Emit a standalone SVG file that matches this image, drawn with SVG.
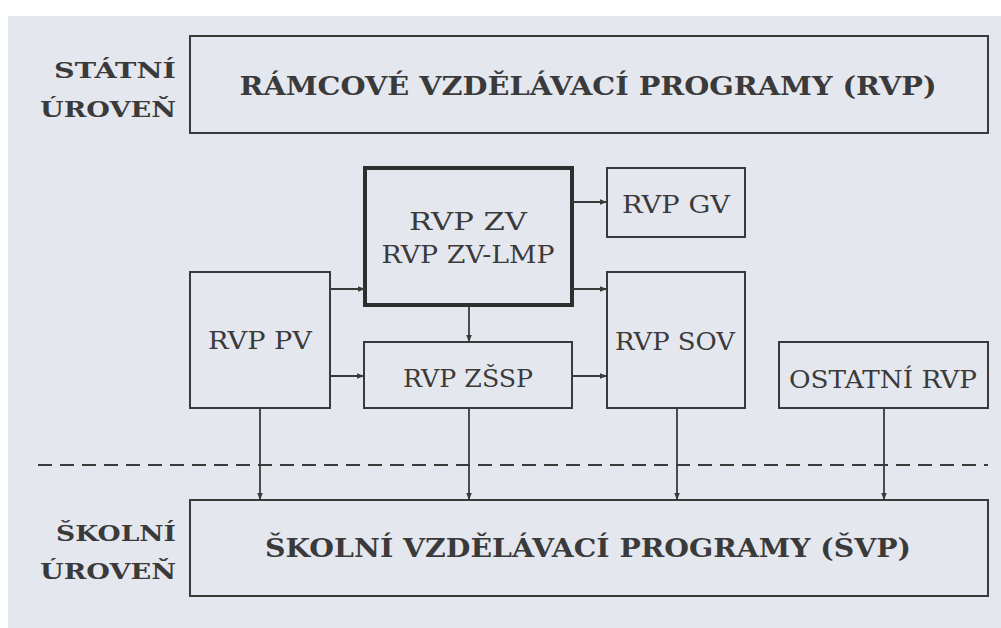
<svg xmlns="http://www.w3.org/2000/svg" width="1001" height="628" viewBox="0 0 1001 628">
<defs>
<style>
.box{fill:none;stroke:#3a3a3a;stroke-width:2}
.thick{fill:none;stroke:#2e2e2e;stroke-width:4}
.c{fill:none;stroke:#3a3a3a;stroke-width:1.8}
.dash{fill:none;stroke:#3a3a3a;stroke-width:2;stroke-dasharray:14 8}
.t{font-family:"DejaVu Serif","Liberation Serif",serif;fill:#3a3a3a;text-anchor:middle}
.node{font-size:24px}
.title{font-size:26px;font-weight:bold}
.lvl{font-size:22px;font-weight:bold;text-anchor:end}
</style>
<marker id="ah" viewBox="0 0 10 10" refX="10" refY="5" markerWidth="8" markerHeight="7" markerUnits="userSpaceOnUse" orient="auto">
<path d="M0,1 L10,5 L0,9 Z" fill="#3a3a3a"/>
</marker>
</defs>
<rect x="0" y="0" width="1001" height="628" fill="#ffffff"/>
<rect x="8" y="16" width="993" height="612" fill="#e5e7ef"/>

<g id="levels">
<text class="t lvl" x="176" y="78" textLength="122" lengthAdjust="spacingAndGlyphs">STÁTNÍ</text>
<text class="t lvl" x="176" y="117" textLength="136" lengthAdjust="spacingAndGlyphs">ÚROVEŇ</text>
<text class="t lvl" x="176" y="541" textLength="120" lengthAdjust="spacingAndGlyphs">ŠKOLNÍ</text>
<text class="t lvl" x="176" y="579" textLength="136" lengthAdjust="spacingAndGlyphs">ÚROVEŇ</text>
</g>

<g id="rvp">
<rect class="box" x="190" y="36" width="798" height="97"/>
<text class="t title" x="588" y="95" textLength="697" lengthAdjust="spacingAndGlyphs">RÁMCOVÉ VZDĚLÁVACÍ PROGRAMY (RVP)</text>
</g>

<g id="zv">
<rect class="thick" x="365" y="168" width="207" height="137"/>
<text class="t node" x="468" y="230" textLength="118" lengthAdjust="spacingAndGlyphs">RVP ZV</text>
<text class="t node" x="468" y="263" textLength="173" lengthAdjust="spacingAndGlyphs">RVP ZV-LMP</text>
</g>

<g id="gv">
<rect class="box" x="607" y="168" width="138" height="69"/>
<text class="t node" x="676" y="213" textLength="108" lengthAdjust="spacingAndGlyphs">RVP GV</text>
</g>

<g id="pv">
<rect class="box" x="190" y="272" width="140" height="136"/>
<text class="t node" x="260" y="349" textLength="104" lengthAdjust="spacingAndGlyphs">RVP PV</text>
</g>

<g id="sov">
<rect class="box" x="607" y="272" width="138" height="136"/>
<text class="t node" x="675" y="350" textLength="120" lengthAdjust="spacingAndGlyphs">RVP SOV</text>
</g>

<g id="zssp">
<rect class="box" x="364" y="342" width="208" height="66"/>
<text class="t node" x="468" y="387" textLength="130" lengthAdjust="spacingAndGlyphs">RVP ZŠSP</text>
</g>

<g id="ostatni">
<rect class="box" x="779" y="342" width="209" height="66"/>
<text class="t node" x="883" y="388" textLength="188" lengthAdjust="spacingAndGlyphs">OSTATNÍ RVP</text>
</g>

<g id="svp">
<rect class="box" x="190" y="500" width="798" height="96"/>
<text class="t title" x="588" y="557" textLength="646" lengthAdjust="spacingAndGlyphs">ŠKOLNÍ VZDĚLÁVACÍ PROGRAMY (ŠVP)</text>
</g>

<g id="divider">
<line class="dash" x1="38" y1="465" x2="988" y2="465"/>
</g>

<g id="connectors">
<line class="c" x1="572" y1="202" x2="607" y2="202" marker-end="url(#ah)"/>
<line class="c" x1="572" y1="289" x2="607" y2="289" marker-end="url(#ah)"/>
<line class="c" x1="330" y1="289" x2="365" y2="289" marker-end="url(#ah)"/>
<line class="c" x1="469" y1="306" x2="469" y2="342" marker-end="url(#ah)"/>
<line class="c" x1="330" y1="376" x2="364" y2="376" marker-end="url(#ah)"/>
<line class="c" x1="572" y1="376" x2="607" y2="376" marker-end="url(#ah)"/>
<line class="c" x1="260" y1="408" x2="260" y2="500" marker-end="url(#ah)"/>
<line class="c" x1="469" y1="408" x2="469" y2="500" marker-end="url(#ah)"/>
<line class="c" x1="677" y1="408" x2="677" y2="500" marker-end="url(#ah)"/>
<line class="c" x1="884" y1="408" x2="884" y2="500" marker-end="url(#ah)"/>
</g>
</svg>
